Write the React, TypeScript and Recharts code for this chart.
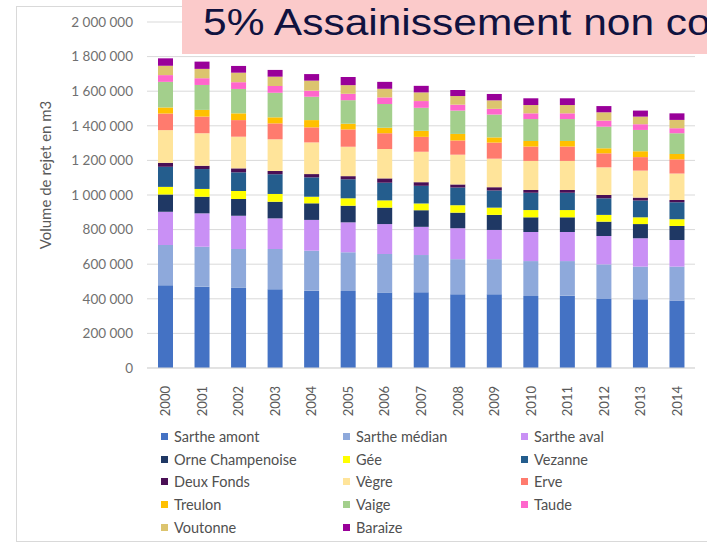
import { BarChart, Bar, XAxis, YAxis, CartesianGrid, Legend } from "recharts";

const years = ["2000", "2001", "2002", "2003", "2004", "2005", "2006", "2007", "2008", "2009", "2010", "2011", "2012", "2013", "2014"];

// volumes de rejet (m3), du bas vers le haut de la pile
const sartheAmont = [478000, 470000, 466000, 455000, 447000, 445000, 436000, 438000, 426000, 426000, 416000, 418000, 399000, 397000, 390000];
const sartheMedian = [233000, 231000, 222000, 233000, 231000, 224000, 223000, 215000, 203000, 203000, 202000, 200000, 200000, 189000, 196000];
const sartheAval = [192000, 193000, 192000, 177000, 178000, 173000, 173000, 163000, 179000, 169000, 168000, 168000, 164000, 164000, 154000];
const orneChampenoise = [100000, 96000, 97000, 96000, 96000, 96000, 95000, 96000, 90000, 87000, 85000, 85000, 83000, 82000, 81000];
const gee = [44000, 45000, 46000, 45000, 38000, 43000, 42000, 39000, 43000, 42000, 42000, 42000, 39000, 39000, 39000];
const vezanne = [116000, 115000, 108000, 114000, 112000, 110000, 102000, 102000, 102000, 99000, 100000, 100000, 96000, 97000, 98000];
const deuxFonds = [23000, 19000, 23000, 19000, 19000, 18000, 25000, 21000, 18000, 19000, 16000, 16000, 19000, 17000, 13000];
const vegre = [189000, 188000, 183000, 183000, 183000, 170000, 170000, 176000, 172000, 165000, 168000, 168000, 160000, 156000, 153000];
const erve = [96000, 96000, 96000, 92000, 87000, 100000, 91000, 86000, 82000, 93000, 83000, 83000, 81000, 78000, 82000];
const treulon = [35000, 39000, 39000, 35000, 42000, 33000, 32000, 35000, 38000, 30000, 32000, 32000, 29000, 34000, 31000];
const vaige = [148000, 144000, 141000, 142000, 135000, 136000, 137000, 133000, 135000, 132000, 127000, 127000, 125000, 123000, 120000];
const taude = [39000, 39000, 39000, 39000, 35000, 37000, 38000, 39000, 34000, 33000, 33000, 33000, 35000, 33000, 29000];
const voutonne = [54000, 54000, 55000, 54000, 58000, 50000, 50000, 50000, 50000, 49000, 48000, 48000, 48000, 44000, 48000];
const baraize = [43000, 42000, 39000, 39000, 38000, 47000, 40000, 38000, 35000, 37000, 39000, 39000, 36000, 35000, 38000];

const yTicks = [0, 200000, 400000, 600000, 800000, 1000000, 1200000, 1400000, 1600000, 1800000, 2000000];

const series = [
  { key: "Sarthe amont", values: sartheAmont, color: "#4472C4" },
  { key: "Sarthe médian", values: sartheMedian, color: "#8EA9DB" },
  { key: "Sarthe aval", values: sartheAval, color: "#C990F5" },
  { key: "Orne Champenoise", values: orneChampenoise, color: "#1F3864" },
  { key: "Gée", values: gee, color: "#FFFF00" },
  { key: "Vezanne", values: vezanne, color: "#245D8D" },
  { key: "Deux Fonds", values: deuxFonds, color: "#4A0F55" },
  { key: "Vègre", values: vegre, color: "#FFE49A" },
  { key: "Erve", values: erve, color: "#FF7B6E" },
  { key: "Treulon", values: treulon, color: "#FFC000" },
  { key: "Vaige", values: vaige, color: "#A3CF8C" },
  { key: "Taude", values: taude, color: "#FF66CC" },
  { key: "Voutonne", values: voutonne, color: "#DCC46E" },
  { key: "Baraize", values: baraize, color: "#990099" },
];

const data = years.map((year, i) => {
  const row: Record<string, string | number> = { year };
  series.forEach((s) => (row[s.key] = s.values[i]));
  return row;
});

const fmt = (v: number) => v.toString().replace(/\B(?=(\d{3})+(?!\d))/g, " ");

const YearTick = ({ x, y, payload }: any) => (
  <g transform={`translate(${x},${y})`}>
    <text
      transform="rotate(-90)"
      x={-10}
      y={0}
      textAnchor="end"
      dominantBaseline="central"
      fill="#595959"
      fontSize={13}
    >
      {payload.value}
    </text>
  </g>
);

// legend kept in the series order (row by row, 3 columns)
const renderLegend = () => (
  <div
    style={{
      display: "grid",
      gridTemplateColumns: "182px 178px 178px",
      gridAutoRows: "22.8px",
      paddingTop: 5,
      height: 130,
      boxSizing: "border-box",
    }}
  >
    {series.map((s) => (
      <div key={s.key} style={{ display: "flex", alignItems: "center", fontSize: 14.5, color: "#505050" }}>
        <span style={{ width: 7, height: 7, background: s.color, marginRight: 6, flex: "none" }} />
        {s.key}
      </div>
    ))}
  </div>
);

export default function App() {
  return (
    <div
      style={{
        position: "fixed",
        left: 0,
        top: 0,
        width: 707,
        height: 550,
        background: "#fff",
        overflow: "hidden",
        fontFamily: "Lato",
      }}
    >
      <div
        style={{
          position: "absolute",
          left: 16,
          top: 6,
          width: 720,
          height: 534,
          border: "1px solid #d9d9d9",
        }}
      />
      <div style={{ position: "absolute", left: 0, top: 0 }}>
        <BarChart width={707} height={550} data={data} margin={{ top: 22, right: 12, bottom: 0, left: 0 }}>
          <CartesianGrid vertical={false} stroke="#d9d9d9" />
          <XAxis
            dataKey="year"
            height={52}
            tick={<YearTick />}
            tickLine={false}
            axisLine={{ stroke: "#d9d9d9" }}
            interval={0}
          />
          <YAxis
            width={147}
            domain={[0, 2000000]}
            ticks={yTicks}
            tickFormatter={fmt}
            axisLine={false}
            tickLine={false}
            tickSize={0}
            tickMargin={14}
            tick={{ fill: "#707070", fontSize: 13.5 }}
            label={{
              content: () => (
                <text
                  x={45}
                  y={175}
                  transform="rotate(-90, 45, 175)"
                  textAnchor="middle"
                  dominantBaseline="central"
                  fill="#595959"
                  fontSize={15}
                >
                  Volume de rejet en m3
                </text>
              ),
            }}
          />
          <Legend content={renderLegend} wrapperStyle={{ left: 161, width: 540 }} />
          {series.map((s) => (
            <Bar key={s.key} dataKey={s.key} stackId="a" fill={s.color} barSize={15} isAnimationActive={false} />
          ))}
        </BarChart>
      </div>
      <div
        style={{
          position: "absolute",
          left: 182,
          top: 0,
          width: 525,
          height: 54,
          background: "#FBCACA",
          overflow: "hidden",
        }}
      >
        <span
          style={{
            position: "absolute",
            left: 21,
            top: 5,
            lineHeight: "35px",
            fontSize: 36,
            fontFamily: "Liberation Sans, Arial, sans-serif",
            color: "#10123F",
            whiteSpace: "nowrap",
            transform: "scaleX(1.18)",
            transformOrigin: "left",
          }}
        >
          5% Assainissement non co
        </span>
      </div>
    </div>
  );
}
